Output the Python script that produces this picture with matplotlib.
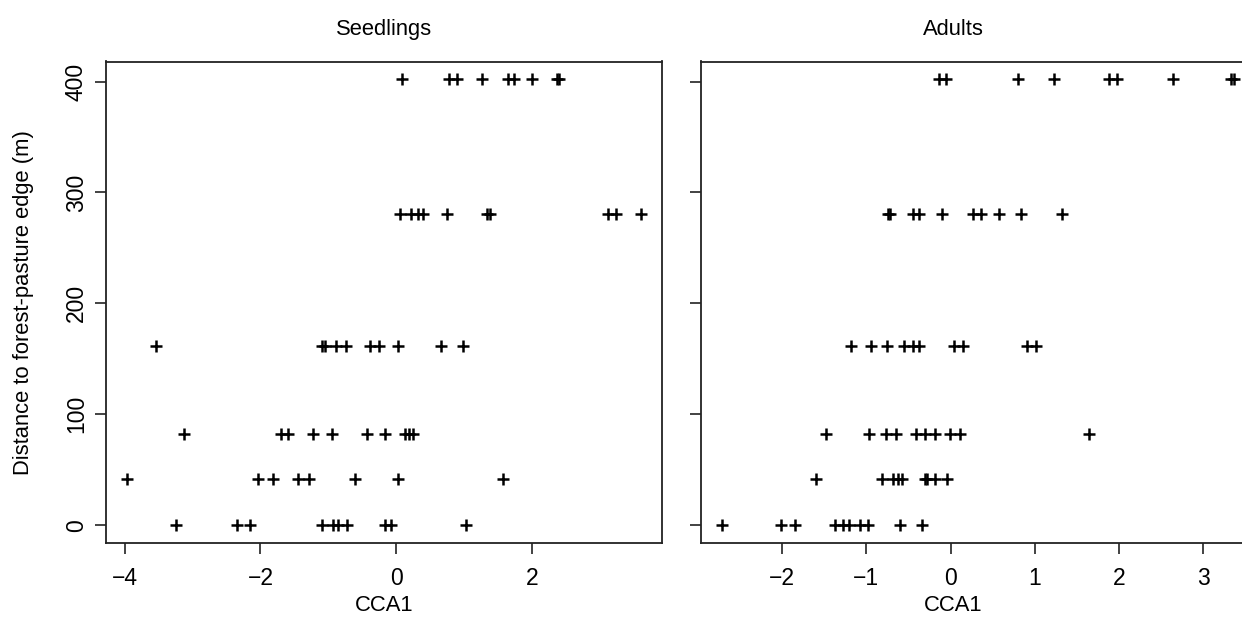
import numpy as np
import matplotlib.pyplot as plt

plt.rcParams['font.family'] = ['Liberation Sans', 'DejaVu Sans']


# 1. Data
# dist_levels - distance to forest-pasture edge (m), one row of points per level
dist_levels = [0, 42, 82, 162, 281, 402]

# seedlings: CCA1 scores per distance level
seed_0 = [-3.24, -2.34, -2.16, -1.09, -0.93, -0.86, -0.73, -0.17, -0.08, 1.02]
seed_42 = [-3.97, -2.04, -1.82, -1.45, -1.28, -0.60, 0.02, 1.57]
seed_82 = [-3.13, -1.70, -1.60, -1.22, -0.94, -0.43, -0.17, 0.13, 0.19, 0.24]
seed_162 = [-3.54, -1.09, -1.05, -0.89, -0.74, -0.38, -0.25, 0.02, 0.66, 0.98]
seed_281 = [0.05, 0.22, 0.32, 0.39, 0.75, 1.33, 1.38, 3.12, 3.23, 3.61]
seed_402 = [0.09, 0.77, 0.90, 1.26, 1.65, 1.73, 2.00, 2.37, 2.40]

# adults: CCA1 scores per distance level
adult_0 = [-2.72, -2.01, -1.85, -1.37, -1.28, -1.21, -1.08, -0.98, -0.60, -0.34]
adult_42 = [-1.60, -0.82, -0.68, -0.63, -0.58, -0.31, -0.28, -0.18, -0.04]
adult_82 = [-1.48, -0.97, -0.77, -0.65, -0.41, -0.30, -0.18, -0.01, 0.11, 1.64]
adult_162 = [-1.18, -0.95, -0.76, -0.55, -0.45, -0.37, 0.04, 0.15, 0.91, 1.01]
adult_281 = [-0.74, -0.72, -0.45, -0.38, -0.10, 0.26, 0.36, 0.57, 0.84, 1.32]
adult_402 = [-0.14, -0.05, 0.80, 1.23, 1.88, 1.97, 2.64, 3.33, 3.37]

seed_rows = [seed_0, seed_42, seed_82, seed_162, seed_281, seed_402]
adult_rows = [adult_0, adult_42, adult_82, adult_162, adult_281, adult_402]

seed_xticks = [-4, -2, 0, 2]
adult_xticks = [-2, -1, 0, 1, 2, 3]
yticks = [0, 100, 200, 300, 400]


def to_xy(rows):
    x = np.concatenate([np.array(r) for r in rows])
    y = np.concatenate([np.full(len(r), d) for r, d in zip(rows, dist_levels)])
    return x, y


def r_lim(v):
    # R style axis range: data range extended by 4% on each side
    lo, hi = np.min(v), np.max(v)
    pad = 0.04 * (hi - lo)
    return lo - pad, hi + pad


# 2. Figure and axes (right panel runs past the right edge, as in the picture)
W, H = 1242, 635
fig = plt.figure(figsize=(W / 100, H / 100), dpi=100)
ax1 = fig.add_axes([106 / W, (H - 543) / H, 556 / W, 481.5 / H])
ax2 = fig.add_axes([701 / W, (H - 543) / H, 554 / W, 481.5 / H])

panels = [(ax1, seed_rows, seed_xticks, 'Seedlings', 0.5),
          (ax2, adult_rows, adult_xticks, 'Adults', 0.455)]

for ax, rows, xt, title, xc in panels:
    x, y = to_xy(rows)
    ax.plot(x, y, '+', color='black', markersize=8, markeredgewidth=1.8)
    ax.set_xlim(r_lim(x))
    ax.set_ylim(r_lim(y))
    ax.set_xticks(xt)
    ax.set_yticks(yticks)
    for s in ax.spines.values():
        s.set_linewidth(1.3)
        s.set_color('#222222')
    ax.tick_params(length=8, width=1.2, color='#222222', labelsize=16.5)
    ax.tick_params(axis='x', pad=9)
    ax.tick_params(axis='y', pad=5)
    ax.text(xc, 1.055, title, transform=ax.transAxes, ha='center', va='baseline', fontsize=15.8)
    ax.text(xc, -0.141, 'CCA1', transform=ax.transAxes, ha='center', va='baseline', fontsize=15.8)

ax1.set_yticklabels([str(t) for t in yticks], rotation=90, va='center')
ax2.set_yticklabels([])
ax1.text(-0.1475, 0.5, 'Distance to forest-pasture edge (m)', transform=ax1.transAxes,
         rotation=90, ha='center', va='center', fontsize=15.8)

fig.savefig('out.png', dpi=100)
